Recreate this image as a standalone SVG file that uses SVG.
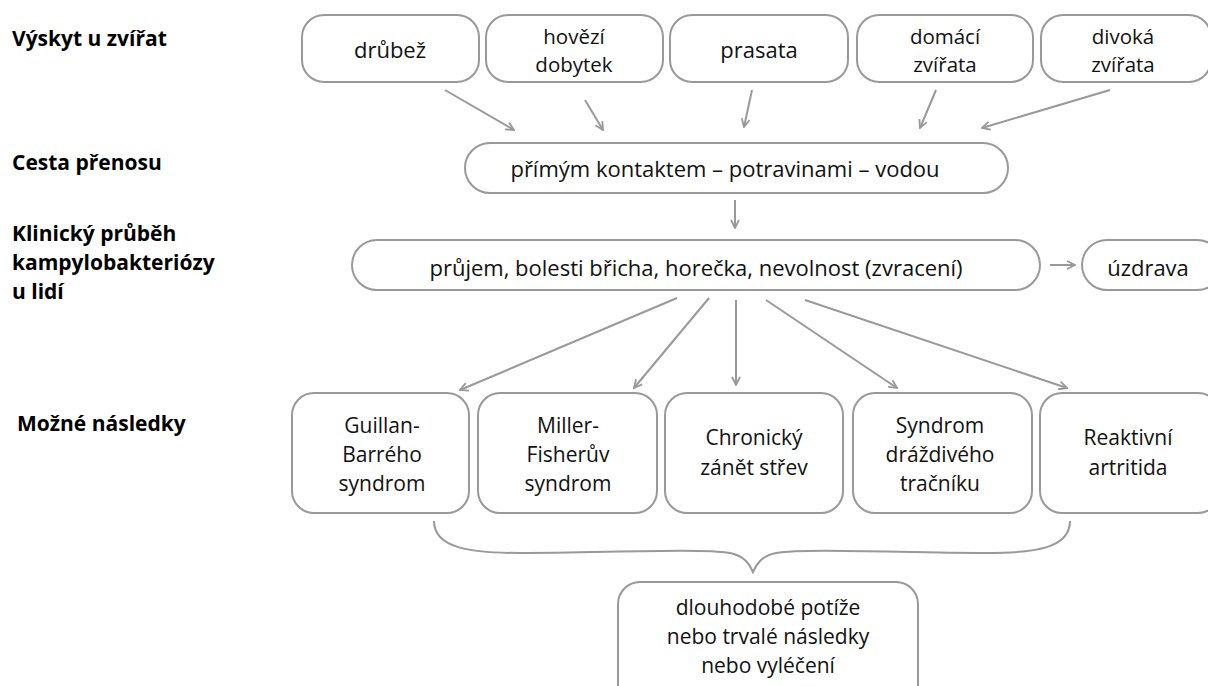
<svg xmlns="http://www.w3.org/2000/svg" width="1208" height="686" viewBox="0 0 1208 686">
<defs>
<marker id="ah" viewBox="0 0 10 10" refX="9" refY="5" markerWidth="10" markerHeight="10" markerUnits="userSpaceOnUse" orient="auto">
<path d="M1,1 L9,5 L1,9" fill="none" stroke="#999" stroke-width="1.8"/>
</marker>
<style>
.box{fill:#fff;stroke:#999;stroke-width:2}
.t{font-family:"Open Sans","Liberation Sans",sans-serif;font-size:22px;fill:#111;text-anchor:middle}
.t2{font-family:"Open Sans","Liberation Sans",sans-serif;font-size:20.5px;fill:#111;text-anchor:middle}
.tb{font-family:"Open Sans","Liberation Sans",sans-serif;font-size:21px;fill:#111;text-anchor:middle}
.lab{font-family:"Open Sans","Liberation Sans",sans-serif;font-size:21px;font-weight:bold;fill:#000}
.c{fill:none;stroke:#999;stroke-width:2;marker-end:url(#ah)}
</style>
</defs>
<rect width="1208" height="686" fill="#fff"/>
<g id="labels">
<text class="lab" x="12" y="46">Výskyt u zvířat</text>
<text class="lab" x="12" y="170">Cesta přenosu</text>
<text class="lab" x="12" y="241">Klinický průběh</text>
<text class="lab" x="12" y="270">kampylobakteriózy</text>
<text class="lab" x="12" y="299">u lidí</text>
<text class="lab" x="17" y="431">Možné následky</text>
</g>
<g id="n-drubez"><rect class="box" x="302" y="15" width="177" height="67" rx="22"/><text class="t" x="390" y="58">drůbež</text></g>
<g id="n-hovezi"><rect class="box" x="486" y="15" width="177" height="67" rx="22"/><text class="t2" x="574" y="44">hovězí</text><text class="t2" x="574" y="72">dobytek</text></g>
<g id="n-prasata"><rect class="box" x="670" y="15" width="178" height="67" rx="22"/><text class="t" x="759" y="58">prasata</text></g>
<g id="n-domaci"><rect class="box" x="857" y="15" width="176" height="67" rx="22"/><text class="t2" x="945" y="44">domácí</text><text class="t2" x="945" y="72">zvířata</text></g>
<g id="n-divoka"><rect class="box" x="1041" y="15" width="170" height="67" rx="22"/><text class="t2" x="1123" y="44">divoká</text><text class="t2" x="1123" y="72">zvířata</text></g>
<g id="n-prenos"><rect class="box" x="465" y="143" width="543" height="50" rx="25"/><text class="t" x="725" y="177">přímým kontaktem – potravinami – vodou</text></g>
<g id="n-prubeh"><rect class="box" x="352" y="240" width="688" height="50" rx="25"/><text class="t" x="696" y="276">průjem, bolesti břicha, horečka, nevolnost (zvracení)</text></g>
<g id="n-uzdrava"><rect class="box" x="1082" y="240" width="140" height="50" rx="25"/><text class="t" x="1148" y="276">úzdrava</text></g>
<g id="n-gbs"><rect class="box" x="292" y="393" width="177" height="120" rx="22"/><text class="tb" x="382" y="433">Guillan-</text><text class="tb" x="382" y="462">Barrého</text><text class="tb" x="382" y="491">syndrom</text></g>
<g id="n-mfs"><rect class="box" x="478" y="393" width="179" height="120" rx="22"/><text class="tb" x="568" y="433">Miller-</text><text class="tb" x="568" y="462">Fisherův</text><text class="tb" x="568" y="491">syndrom</text></g>
<g id="n-chron"><rect class="box" x="665" y="393" width="178" height="120" rx="22"/><text class="tb" x="754" y="445">Chronický</text><text class="tb" x="754" y="475">zánět střev</text></g>
<g id="n-ibs"><rect class="box" x="853" y="393" width="179" height="120" rx="22"/><text class="tb" x="940" y="433">Syndrom</text><text class="tb" x="940" y="462">dráždivého</text><text class="tb" x="940" y="491">tračníku</text></g>
<g id="n-reakt"><rect class="box" x="1040" y="393" width="180" height="120" rx="22"/><text class="tb" x="1128" y="445">Reaktivní</text><text class="tb" x="1128" y="475">artritida</text></g>
<g id="n-final"><rect class="box" x="618" y="582" width="300" height="130" rx="22"/><text class="tb" x="768" y="615">dlouhodobé potíže</text><text class="tb" x="768" y="644">nebo trvalé následky</text><text class="tb" x="768" y="673">nebo vyléčení</text></g>
<g id="connectors">
<line class="c" x1="445" y1="90" x2="514" y2="130"/>
<line class="c" x1="585" y1="100" x2="603" y2="130"/>
<line class="c" x1="752" y1="90" x2="744" y2="127"/>
<line class="c" x1="936" y1="90" x2="920" y2="128"/>
<line class="c" x1="1110" y1="90" x2="982" y2="128"/>
<line class="c" x1="735" y1="200" x2="735" y2="228"/>
<line class="c" x1="1050" y1="265" x2="1075" y2="265"/>
<line class="c" x1="677" y1="298" x2="460" y2="390"/>
<line class="c" x1="709" y1="298" x2="634" y2="388"/>
<line class="c" x1="736" y1="300" x2="736" y2="385"/>
<line class="c" x1="766" y1="300" x2="897" y2="388"/>
<line class="c" x1="805" y1="300" x2="1067" y2="388"/>
<path d="M434,521 C434,548 470,553 520,553 C600,553 700,548 730,553 C745,556 750,565 753,572 C756,565 761,556 776,553 C806,548 906,553 986,553 C1036,553 1070,548 1070,521" fill="none" stroke="#999" stroke-width="2"/>
</g>
</svg>
